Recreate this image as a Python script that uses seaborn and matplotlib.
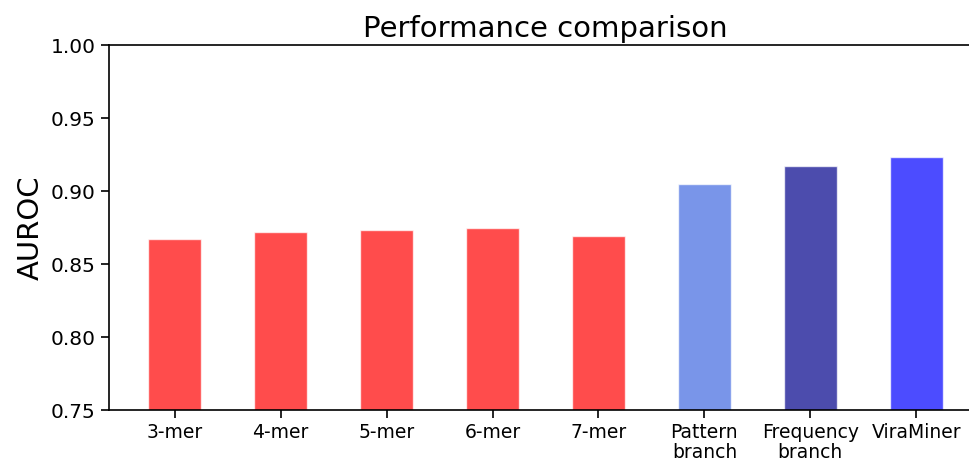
import matplotlib
matplotlib.use("Agg")
import matplotlib.pyplot as plt
import seaborn as sns
import pandas as pd

models = ["3-mer", "4-mer", "5-mer", "6-mer", "7-mer",
          "Pattern\nbranch", "Frequency\nbranch", "ViraMiner"]
auroc = [0.867, 0.872, 0.873, 0.875, 0.869, 0.905, 0.917, 0.923]
bar_colors = ["red", "red", "red", "red", "red", "royalblue", "darkblue", "blue"]

df = pd.DataFrame({"model": models, "auroc": auroc})

sns.set_style("ticks")
plt.rcParams["font.family"] = ["DejaVu Sans"]
plt.rcParams["text.color"] = "black"
plt.rcParams["axes.labelcolor"] = "black"
plt.rcParams["xtick.color"] = "black"
plt.rcParams["ytick.color"] = "black"

fig = plt.figure(figsize=(9.70, 4.61), dpi=100)
ax = fig.add_axes([109 / 970, 1 - 410 / 461, (982 - 109) / 970, 365 / 461])

sns.barplot(data=df, x="model", y="auroc", hue="model",
            palette=dict(zip(models, bar_colors)), width=0.5,
            saturation=1, alpha=0.7, legend=False, ax=ax)

ax.set_ylim(0.75, 1.0)
ax.set_xlim(-0.62, 7.62)
ticks = [0.75, 0.80, 0.85, 0.90, 0.95, 1.00]
ax.set_yticks(ticks)
ax.set_yticklabels([f"{v:.2f}" for v in ticks])
ax.tick_params(axis="y", labelsize=14.5, length=6, width=1.2)
ax.tick_params(axis="x", labelsize=13.5, length=6, width=1.2, pad=3)
for lbl in ax.get_xticklabels():
    lbl.set_linespacing(1.1)
ax.set_xlabel("")
ax.set_ylabel("AUROC", fontsize=21)
ax.set_title("Performance comparison", fontsize=21, pad=6)
ax.spines["right"].set_visible(False)
for s in ["left", "top", "bottom"]:
    ax.spines[s].set_linewidth(1.2)
    ax.spines[s].set_color("black")

fig.savefig("out.png", dpi=100)
